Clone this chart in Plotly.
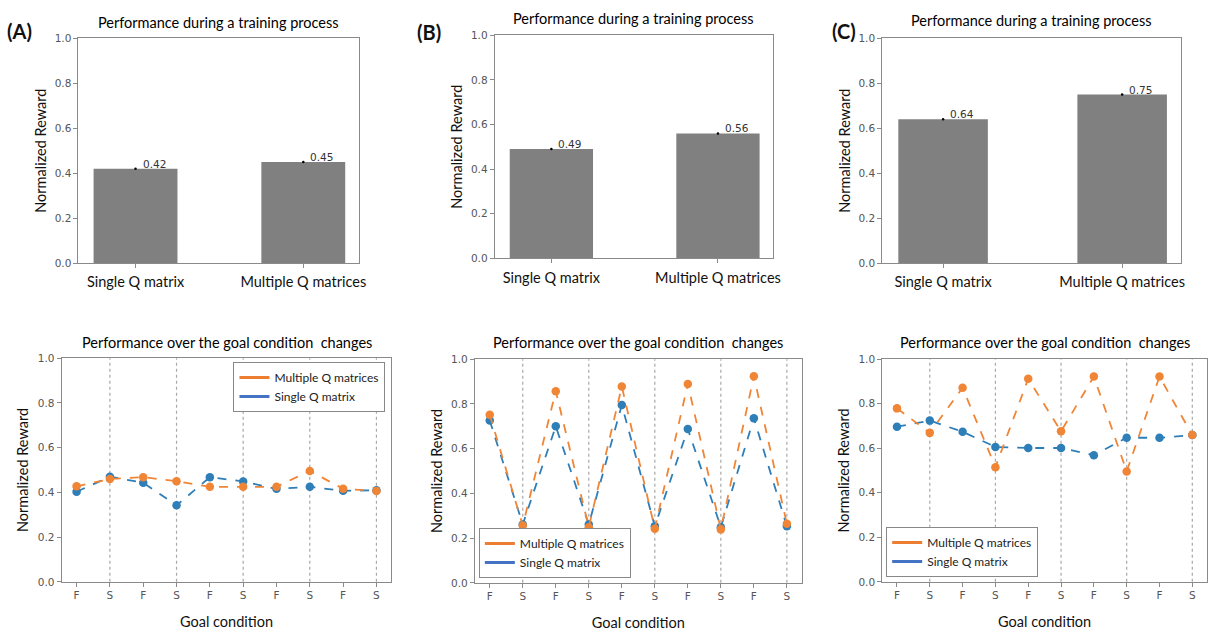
import plotly.graph_objects as go

# ---------------- data ----------------
bar_categories = ["Single Q matrix", "Multiple Q matrices"]
bars_A = [0.42, 0.45]
bars_B = [0.49, 0.56]
bars_C = [0.64, 0.75]

conditions = ["F", "S", "F", "S", "F", "S", "F", "S", "F", "S"]

multi_A = [0.427, 0.46, 0.468, 0.45, 0.425, 0.425, 0.425, 0.496, 0.416, 0.406]
single_A = [0.403, 0.47, 0.443, 0.342, 0.468, 0.449, 0.416, 0.425, 0.407, 0.41]

multi_B = [0.751, 0.256, 0.857, 0.249, 0.878, 0.242, 0.889, 0.239, 0.924, 0.264]
single_B = [0.726, 0.261, 0.70, 0.261, 0.795, 0.253, 0.688, 0.249, 0.736, 0.253]

multi_C = [0.779, 0.669, 0.872, 0.515, 0.912, 0.676, 0.922, 0.496, 0.922, 0.659]
single_C = [0.697, 0.724, 0.674, 0.606, 0.601, 0.601, 0.569, 0.647, 0.647, 0.659]

panel_labels = ["(A)", "(B)", "(C)"]
top_title = "Performance during a training process"
bottom_title = "Performance over the goal condition  changes"
y_title = "Normalized Reward"
x_title = "Goal condition"
series_names = ["Multiple Q matrices", "Single Q matrix"]
y_ticks = [0.0, 0.2, 0.4, 0.6, 0.8, 1.0]

# ---------------- style ----------------
W, H = 1225, 632
TXT = "Lato, Noto Sans, sans-serif"
TICKF = "DejaVu Sans"
ORANGE = "#F08536"
BLUE = "#2E7EB8"
LEG_ORANGE = "#ED7D31"
LEG_BLUE = "#4472C4"
AXCOL = "#8a8a8a"
BARCOL = "#808080"

# plot areas in pixels: (left, right, top, bottom)
top_boxes = [(79, 361, 33, 262), (498, 778, 30, 257), (888, 1189, 33, 262)]
bot_boxes = [(62, 394, 359, 587), (478, 807, 360, 588), (888, 1215, 360, 587)]
top_title_y = [17, 13, 15]
label_pos = [(20, 25), (432, 27), (850, 25)]


def dom_x(b):
    return [b[0] / W, b[1] / W]


def dom_y(b):
    return [1 - b[3] / H, 1 - b[2] / H]


fig = go.Figure()
layout = dict(
    width=W, height=H, margin=dict(l=0, r=0, t=0, b=0),
    plot_bgcolor="white", paper_bgcolor="white", showlegend=True,
    shapes=[], annotations=[],
)

bars_all = [bars_A, bars_B, bars_C]
lines_all = [(multi_A, single_A), (multi_B, single_B), (multi_C, single_C)]
cond_idx = list(range(len(conditions)))

def axis_common():
    return dict(showline=True, linecolor=AXCOL, linewidth=1, mirror=True,
                ticks="outside", tickcolor=AXCOL, ticklen=4,
                showgrid=False, zeroline=False,
                tickfont=dict(family=TICKF, size=10.5, color="#555555"))

for p in range(3):
    # ---------- top bar chart ----------
    xi = 2 * p + 1
    xa = "x" if xi == 1 else f"x{xi}"
    ya = "y" if xi == 1 else f"y{xi}"
    xk = "xaxis" if xi == 1 else f"xaxis{xi}"
    yk = "yaxis" if xi == 1 else f"yaxis{xi}"
    b = top_boxes[p]
    vals = bars_all[p]
    idx = list(range(len(bar_categories)))
    fig.add_trace(go.Bar(x=idx, y=vals, width=0.5, marker=dict(color=BARCOL, line=dict(width=0)),
                         xaxis=xa, yaxis=ya, showlegend=False))
    fig.add_trace(go.Scatter(x=idx, y=vals, mode="markers", marker=dict(size=2.5, color="black"),
                             xaxis=xa, yaxis=ya, showlegend=False))
    ax = axis_common()
    ax.update(domain=dom_x(b), anchor=ya, range=[-0.34, 1.33], tickvals=idx,
              ticktext=bar_categories, ticklabelstandoff=2,
              tickfont=dict(family=TXT, size=14.5, color="#111111"), ticklen=4)
    layout[xk] = ax
    ay = axis_common()
    ay.update(domain=dom_y(b), anchor=xa, range=[0, 1], tickvals=y_ticks,
              ticktext=[f"{v:.1f}" for v in y_ticks],
              title=dict(text=y_title, font=dict(family=TXT, size=14.5, color="#111111"), standoff=4))
    layout[yk] = ay
    for i, v in zip(idx, vals):
        layout["annotations"].append(dict(
            x=i, y=v, xref=xa, yref=ya, text=f"{v:.2f}", showarrow=False,
            xanchor="left", yanchor="bottom", xshift=5, yshift=-3,
            font=dict(family=TICKF, size=10.5, color="#333333")))
    layout["annotations"].append(dict(
        x=(b[0] + b[1]) / 2 / W, y=1 - top_title_y[p] / H, xref="paper", yref="paper",
        text=top_title, showarrow=False, xanchor="center", yanchor="middle",
        font=dict(family=TXT, size=14.5, color="#000000")))
    lx, ly = label_pos[p]
    layout["annotations"].append(dict(
        x=lx / W, y=1 - ly / H, xref="paper", yref="paper", text=f"<b>{panel_labels[p]}</b>",
        showarrow=False, xanchor="center", yanchor="middle",
        font=dict(family=TXT, size=20, color="#111111")))

    # ---------- bottom line chart ----------
    xi = 2 * p + 2
    xa, ya = f"x{xi}", f"y{xi}"
    xk, yk = f"xaxis{xi}", f"yaxis{xi}"
    b = bot_boxes[p]
    multi, single = lines_all[p]
    leg = "legend" if p == 0 else f"legend{p + 1}"
    fig.add_trace(go.Scatter(x=cond_idx, y=single, mode="lines+markers",
                             line=dict(color=BLUE, width=1.8, dash="dash"),
                             marker=dict(size=8.5, color=BLUE), xaxis=xa, yaxis=ya, showlegend=False))
    fig.add_trace(go.Scatter(x=cond_idx, y=multi, mode="lines+markers",
                             line=dict(color=ORANGE, width=1.8, dash="dash"),
                             marker=dict(size=8.5, color=ORANGE), xaxis=xa, yaxis=ya, showlegend=False))
    # legend entries (solid lines as in the reference legend)
    fig.add_trace(go.Scatter(x=[None], y=[None], mode="lines", name=series_names[0],
                             line=dict(color=LEG_ORANGE, width=3), xaxis=xa, yaxis=ya, legend=leg))
    fig.add_trace(go.Scatter(x=[None], y=[None], mode="lines", name=series_names[1],
                             line=dict(color=LEG_BLUE, width=3), xaxis=xa, yaxis=ya, legend=leg))
    ax = axis_common()
    ax.update(domain=dom_x(b), anchor=ya, range=[-0.45, len(conditions) - 0.55],
              tickvals=cond_idx, ticktext=conditions,
              title=dict(text=x_title, font=dict(family=TXT, size=14.5, color="#111111"), standoff=16))
    layout[xk] = ax
    ay = axis_common()
    ay.update(domain=dom_y(b), anchor=xa, range=[0, 1], tickvals=y_ticks,
              ticktext=[f"{v:.1f}" for v in y_ticks],
              title=dict(text=y_title, font=dict(family=TXT, size=14.5, color="#111111"), standoff=5))
    layout[yk] = ay
    for i, c in enumerate(conditions):
        if c == "S":
            layout["shapes"].append(dict(type="line", xref=xa, yref=f"{ya} domain",
                                         x0=i, x1=i, y0=0, y1=1,
                                         line=dict(color="#a8a8a8", width=1.2, dash="dot"),
                                         layer="below"))
    layout["annotations"].append(dict(
        x=(b[0] + b[1]) / 2 / W, y=1 - 343 / H, xref="paper", yref="paper",
        text=bottom_title, showarrow=False, xanchor="center", yanchor="middle",
        font=dict(family=TXT, size=14.5, color="#000000")))
    if p == 0:
        lg = dict(x=(b[1] - 6) / W, y=1 - (b[2] + 4) / H, xanchor="right", yanchor="top")
    else:
        lg = dict(x=(b[0] + 4) / W, y=1 - (b[3] - 5) / H, xanchor="left", yanchor="bottom")
    lg.update(bgcolor="white", bordercolor="#888888", borderwidth=1,
              font=dict(family=TXT, size=12, color="#222222"), tracegroupgap=0,
              itemwidth=30)
    layout[leg] = lg

fig.update_layout(**layout)
fig.write_html("out.html", config={"displayModeBar": False},
               post_script="document.body.style.margin='0';document.body.style.overflow='hidden';")
